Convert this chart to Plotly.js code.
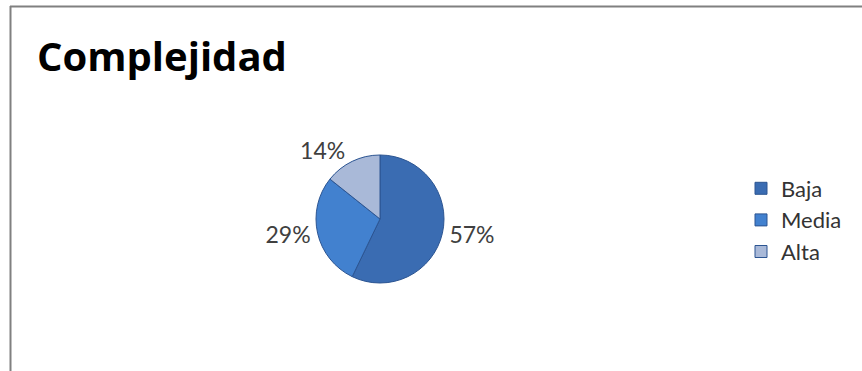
<!DOCTYPE html>
<html><head><meta charset="utf-8">
<script src="https://cdn.plot.ly/plotly-3.0.1.min.js"></script>
<style>html,body{margin:0;padding:0;background:#fff}#chart{width:862px;height:371px}</style>
</head><body><div id="chart"></div>
<script>
const categories = ["Baja", "Media", "Alta"];
const values = [4, 2, 1];
const sliceColors = ["#3a6cb2", "#4281cf", "#a9b9d8"];
const chartTitle = "Complejidad";

const W = 862, H = 371;
const cx = 380, cy = 219, r = 64;

const data = [{
  type: "pie",
  labels: categories,
  values: values,
  sort: false,
  direction: "clockwise",
  rotation: 0,
  marker: {colors: sliceColors, line: {color: "#2c5592", width: 1}},
  textinfo: "percent",
  texttemplate: "%{percent:.0%}",
  textposition: "outside",
  outsidetextfont: {family: "Lato, 'Liberation Sans', sans-serif", size: 23, color: "#404040"},
  hoverinfo: "label+percent",
  domain: {x: [(cx - r) / W, (cx + r) / W], y: [1 - (cy + r) / H, 1 - (cy - r) / H]},
  automargin: false
}];

const layout = {
  width: W, height: H,
  margin: {l: 0, r: 0, t: 0, b: 0},
  paper_bgcolor: "#ffffff",
  title: {text: "<b>" + chartTitle + "</b>", x: 37 / W, xanchor: "left", y: 1 - 57 / H, yanchor: "middle",
          font: {family: "'Open Sans', sans-serif", size: 40, color: "#000000"}},
  showlegend: true,
  legend: {x: 741 / W, xanchor: "left", y: 1 - 220 / H, yanchor: "middle",
           font: {family: "Lato, 'Liberation Sans', sans-serif", size: 22, color: "#333333"},
           itemwidth: 30, bgcolor: "rgba(0,0,0,0)"},
  shapes: [
    {type: "line", xref: "paper", yref: "paper", x0: 10.5 / W, x1: 10.5 / W, y0: 0, y1: 1 - 6 / H, line: {color: "#808080", width: 2}},
    {type: "line", xref: "paper", yref: "paper", x0: 10 / W, x1: 1, y0: 1 - 6.5 / H, y1: 1 - 6.5 / H, line: {color: "#808080", width: 2}}
  ]
};

Plotly.newPlot("chart", data, layout, {displayModeBar: false, staticPlot: true});
</script></body></html>
